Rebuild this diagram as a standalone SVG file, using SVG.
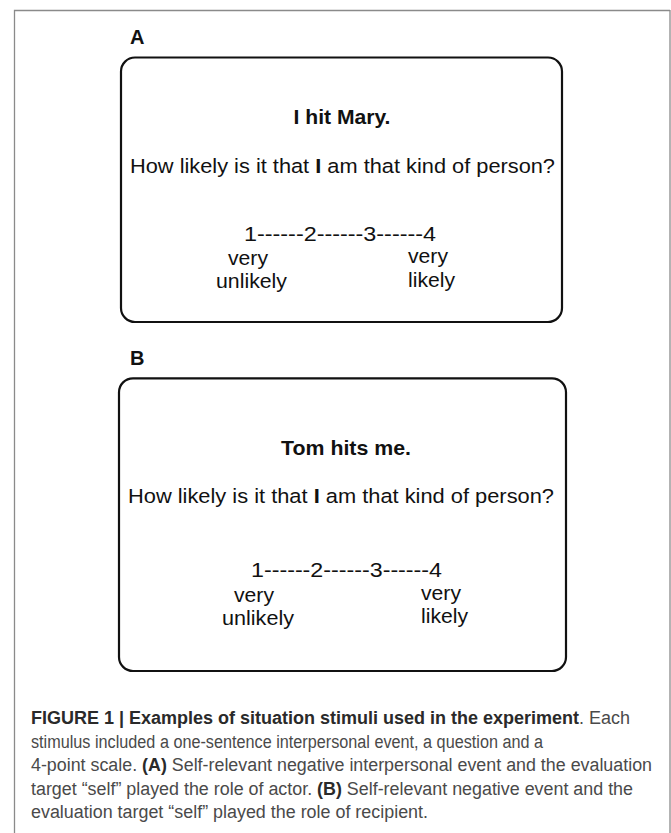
<svg xmlns="http://www.w3.org/2000/svg" width="671" height="833" viewBox="0 0 671 833">
<style>
.frame{fill:none;stroke:#8a8a8a;stroke-width:1.3}
.box{fill:#fff;stroke:#111;stroke-width:2.2}
.t{font-family:"Liberation Sans",Arial,sans-serif;fill:#111}
.lbl{font-size:20px;font-weight:bold}
.ev{font-size:20.5px;font-weight:bold;text-anchor:middle}
.q{font-size:20.5px}
.s{font-size:20.5px}
.cap{font-family:"Liberation Sans",Arial,sans-serif;font-size:18px;fill:#4a4a4a}
.capb{font-weight:bold;fill:#2a2a2a}
</style>
<rect width="671" height="833" fill="#fff"/>
<path class="frame" d="M14.5,840 V10.5 H670"/>
<line class="frame" x1="670" y1="10" x2="670" y2="840"/>
<g id="panelA">
<text class="t lbl" x="130" y="44">A</text>
<rect class="box" x="121" y="57.5" width="441" height="264.5" rx="14"/>
<text class="t ev" x="342" y="124" textLength="97" lengthAdjust="spacingAndGlyphs">I hit Mary.</text>
<text class="t q" x="130" y="173" textLength="425" lengthAdjust="spacingAndGlyphs">How likely is it that <tspan font-weight="bold">I</tspan> am that kind of person?</text>
<text class="t s" x="244" y="241" textLength="192" lengthAdjust="spacingAndGlyphs">1------2------3------4</text>
<text class="t s" x="228" y="265" textLength="40" lengthAdjust="spacingAndGlyphs">very</text>
<text class="t s" x="216" y="288" textLength="71" lengthAdjust="spacingAndGlyphs">unlikely</text>
<text class="t s" x="408" y="263" textLength="40" lengthAdjust="spacingAndGlyphs">very</text>
<text class="t s" x="408" y="287" textLength="47" lengthAdjust="spacingAndGlyphs">likely</text>
</g>
<g id="panelB">
<text class="t lbl" x="130" y="365">B</text>
<rect class="box" x="119" y="378.3" width="447" height="292.7" rx="14"/>
<text class="t ev" x="346" y="455" textLength="130" lengthAdjust="spacingAndGlyphs">Tom hits me.</text>
<text class="t q" x="128" y="503" textLength="426" lengthAdjust="spacingAndGlyphs">How likely is it that <tspan font-weight="bold">I</tspan> am that kind of person?</text>
<text class="t s" x="251" y="577" textLength="191" lengthAdjust="spacingAndGlyphs">1------2------3------4</text>
<text class="t s" x="234" y="602" textLength="40" lengthAdjust="spacingAndGlyphs">very</text>
<text class="t s" x="222" y="625" textLength="72" lengthAdjust="spacingAndGlyphs">unlikely</text>
<text class="t s" x="421" y="600" textLength="40" lengthAdjust="spacingAndGlyphs">very</text>
<text class="t s" x="421" y="623" textLength="47" lengthAdjust="spacingAndGlyphs">likely</text>
</g>
<g id="caption">
<text class="cap" x="31" y="724" textLength="599" lengthAdjust="spacingAndGlyphs"><tspan class="capb">FIGURE 1 | Examples of situation stimuli used in the experiment</tspan>. Each</text>
<text class="cap" x="31" y="747.5" textLength="512" lengthAdjust="spacingAndGlyphs">stimulus included a one-sentence interpersonal event, a question and a</text>
<text class="cap" x="31" y="771" textLength="621" lengthAdjust="spacingAndGlyphs">4-point scale. <tspan class="capb">(A)</tspan> Self-relevant negative interpersonal event and the evaluation</text>
<text class="cap" x="31" y="794.5" textLength="602" lengthAdjust="spacingAndGlyphs">target “self” played the role of actor. <tspan class="capb">(B)</tspan> Self-relevant negative event and the</text>
<text class="cap" x="31" y="818" textLength="397" lengthAdjust="spacingAndGlyphs">evaluation target “self” played the role of recipient.</text>
</g>
</svg>
